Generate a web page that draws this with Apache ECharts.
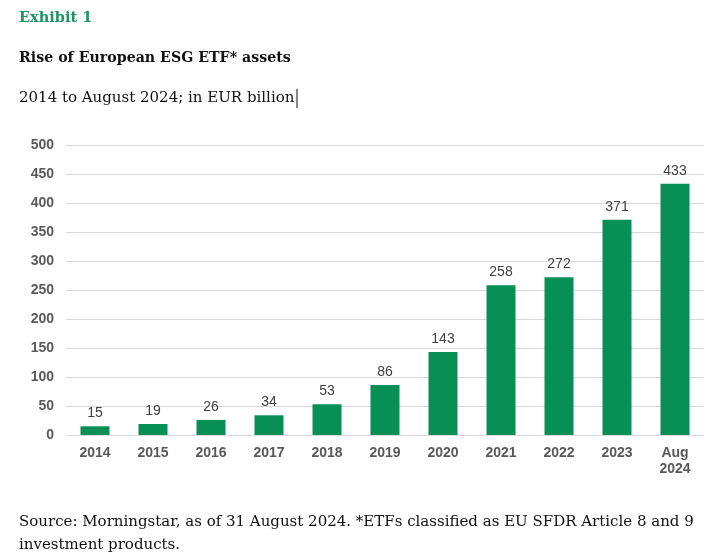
<!DOCTYPE html>
<html>
<head>
<meta charset="utf-8">
<script src="https://cdn.jsdelivr.net/npm/echarts@6/dist/echarts.min.js"></script>
<style>
html,body{margin:0;padding:0;background:#fff;}
#main{width:725px;height:560px;}
</style>
</head>
<body>
<div id="main"></div>
<script>
// categories and values (EUR billion)
var years = ['2014','2015','2016','2017','2018','2019','2020','2021','2022','2023','Aug\n2024'];
var assets = [15, 19, 26, 34, 53, 86, 143, 258, 272, 371, 433];
var yTicks = [0, 50, 100, 150, 200, 250, 300, 350, 400, 450, 500];

var serif = '"DejaVu Serif", "Liberation Serif", serif';
var sans = 'Arial, "Liberation Sans", sans-serif';

var myChart = echarts.init(document.getElementById('main'));
var option = {
    backgroundColor: '#fff',
    animation: false,
    graphic: [
        { type: 'text', left: 19, top: 11, style: { text: 'Exhibit 1', font: 'bold 14.5px ' + serif, fill: '#1f9463' } },
        { type: 'text', left: 19, top: 51, style: { text: 'Rise of European ESG ETF* assets', font: 'bold 14.2px ' + serif, fill: '#111' } },
        { type: 'text', left: 19, top: 91, style: { text: '2014 to August 2024; in EUR billion', font: '15px ' + serif, fill: '#111' } },
        { type: 'line', shape: { x1: 297, y1: 89, x2: 297, y2: 108 }, style: { stroke: '#111', lineWidth: 1 } },
        { type: 'text', left: 19, top: 511, style: { text: 'Source: Morningstar, as of 31 August 2024. *ETFs classified as EU SFDR Article 8 and 9\ninvestment products.', font: '15px ' + serif, fill: '#111', lineHeight: 23 } }
    ],
    grid: { left: 66, right: 21, top: 145, bottom: 125, containLabel: false },
    xAxis: {
        type: 'category',
        data: years,
        axisLine: { show: true, lineStyle: { color: '#d9d9d9' } },
        axisTick: { show: false },
        axisLabel: { color: '#595959', fontSize: 14, fontWeight: 'bold', fontFamily: sans, margin: 10, lineHeight: 16 }
    },
    yAxis: {
        type: 'value',
        min: yTicks[0],
        max: yTicks[yTicks.length - 1],
        interval: 50,
        axisLine: { show: false },
        axisTick: { show: false },
        splitLine: { lineStyle: { color: '#d9d9d9', width: 1 } },
        axisLabel: { color: '#595959', fontSize: 14, fontWeight: 'bold', fontFamily: sans, margin: 12 }
    },
    series: [{
        type: 'bar',
        data: assets,
        barWidth: '50%',
        itemStyle: { color: '#078f55' },
        label: { show: true, position: 'top', color: '#404040', fontSize: 14, fontFamily: sans, distance: 6 }
    }]
};
myChart.setOption(option);
window.onresize = myChart.resize;
</script>
</body>
</html>
